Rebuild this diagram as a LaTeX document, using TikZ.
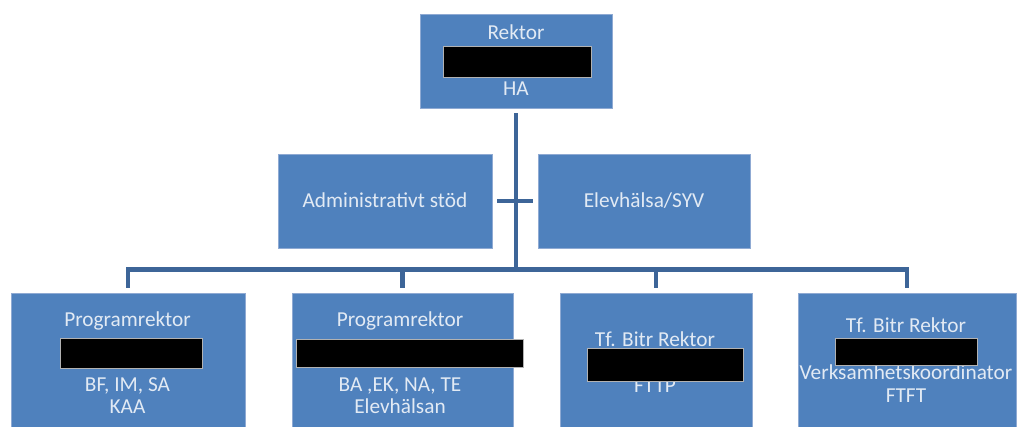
\documentclass[tikz,border=0pt]{standalone}
\usepackage{fontspec}
\setmainfont{Carlito}
\definecolor{boxfill}{HTML}{4F81BD}
\definecolor{boxedge}{HTML}{8FAAD3}
\definecolor{linecol}{HTML}{3D6598}
\definecolor{txtcol}{HTML}{E2EAF4}
\begin{document}
\begin{tikzpicture}[x=1pt,y=-1pt,
  box/.style={rectangle, fill=boxfill, draw=boxedge, line width=0.7pt, inner sep=0pt},
  lbl/.style={anchor=base, text=txtcol, inner sep=0pt, font=\fontsize{21.3}{23}\selectfont},
  conn/.style={draw=linecol, line width=4.5pt},
  redact/.style={fill=black, draw=gray!60, line width=0.5pt}]
\clip (0,0) rectangle (1017,426);
\fill[white] (0,0) rectangle (1017,426);
% boxes
\node[box, minimum width=192pt, minimum height=94pt] (top) at (516,61) {};
\node[box, minimum width=214pt, minimum height=94pt] (admin) at (385,201) {};
\node[box, minimum width=212pt, minimum height=94pt] (elev) at (644,201) {};
\node[box, minimum width=234pt, minimum height=157pt] (b1) at (128,371.5) {};
\node[box, minimum width=221pt, minimum height=157pt] (b2) at (402.5,371.5) {};
\node[box, minimum width=192pt, minimum height=157pt] (b3) at (656,371.5) {};
\node[box, minimum width=218pt, minimum height=157pt] (b4) at (907,371.5) {};
% connectors
\coordinate (bus) at (516,269.5);
\draw[conn, shorten <=5pt] (top.south) -- (top.south |- bus);
\draw[conn, shorten <=5pt, shorten >=5pt] (admin.east) -- (elev.west);
\draw[conn, shorten <=5pt, shorten >=5pt] (b1.north) -- (b1.north |- bus) -- (b4.north |- bus) -- (b4.north);
\draw[conn, shorten >=5pt] (b2.north |- bus) -- (b2.north);
\draw[conn, shorten >=5pt] (b3.north |- bus) -- (b3.north);
% texts
\node[lbl] (t1) at (516,39) {Rektor};
\node[lbl] (t2) at (516,95) {HA};
\node[lbl] (a1) at (385,207) {Administrativt stöd};
\node[lbl] (e1) at (644,207) {Elevhälsa/SYV};
\node[lbl] (p1) at (127.5,326) {Programrektor};
\node[lbl] (p2) at (127.5,391) {BF, IM, SA};
\node[lbl] (p3) at (127.5,413) {KAA};
\node[lbl] (q1) at (400,326) {Programrektor};
\node[lbl] (q2) at (400,391) {BA ,EK, NA, TE};
\node[lbl] (q3) at (400,413) {Elevhälsan};
\node[lbl] (r1) at (655,346) {Tf. Bitr Rektor};
\node[lbl] (r2) at (655,392) {FTTP};
\node[lbl] (s1) at (906,332) {Tf. Bitr Rektor};
\node[lbl] (s2) at (906,379) {Verksamhetskoordinator};
\node[lbl] (s3) at (906,402) {FTFT};
% redactions
\filldraw[redact] (443,46) rectangle (591,77);
\filldraw[redact] (60,338) rectangle (202,368);
\filldraw[redact] (296,339) rectangle (523,367);
\filldraw[redact] (587,348) rectangle (743,381);
\filldraw[redact] (835,338) rectangle (977,365);
\end{tikzpicture}
\end{document}
